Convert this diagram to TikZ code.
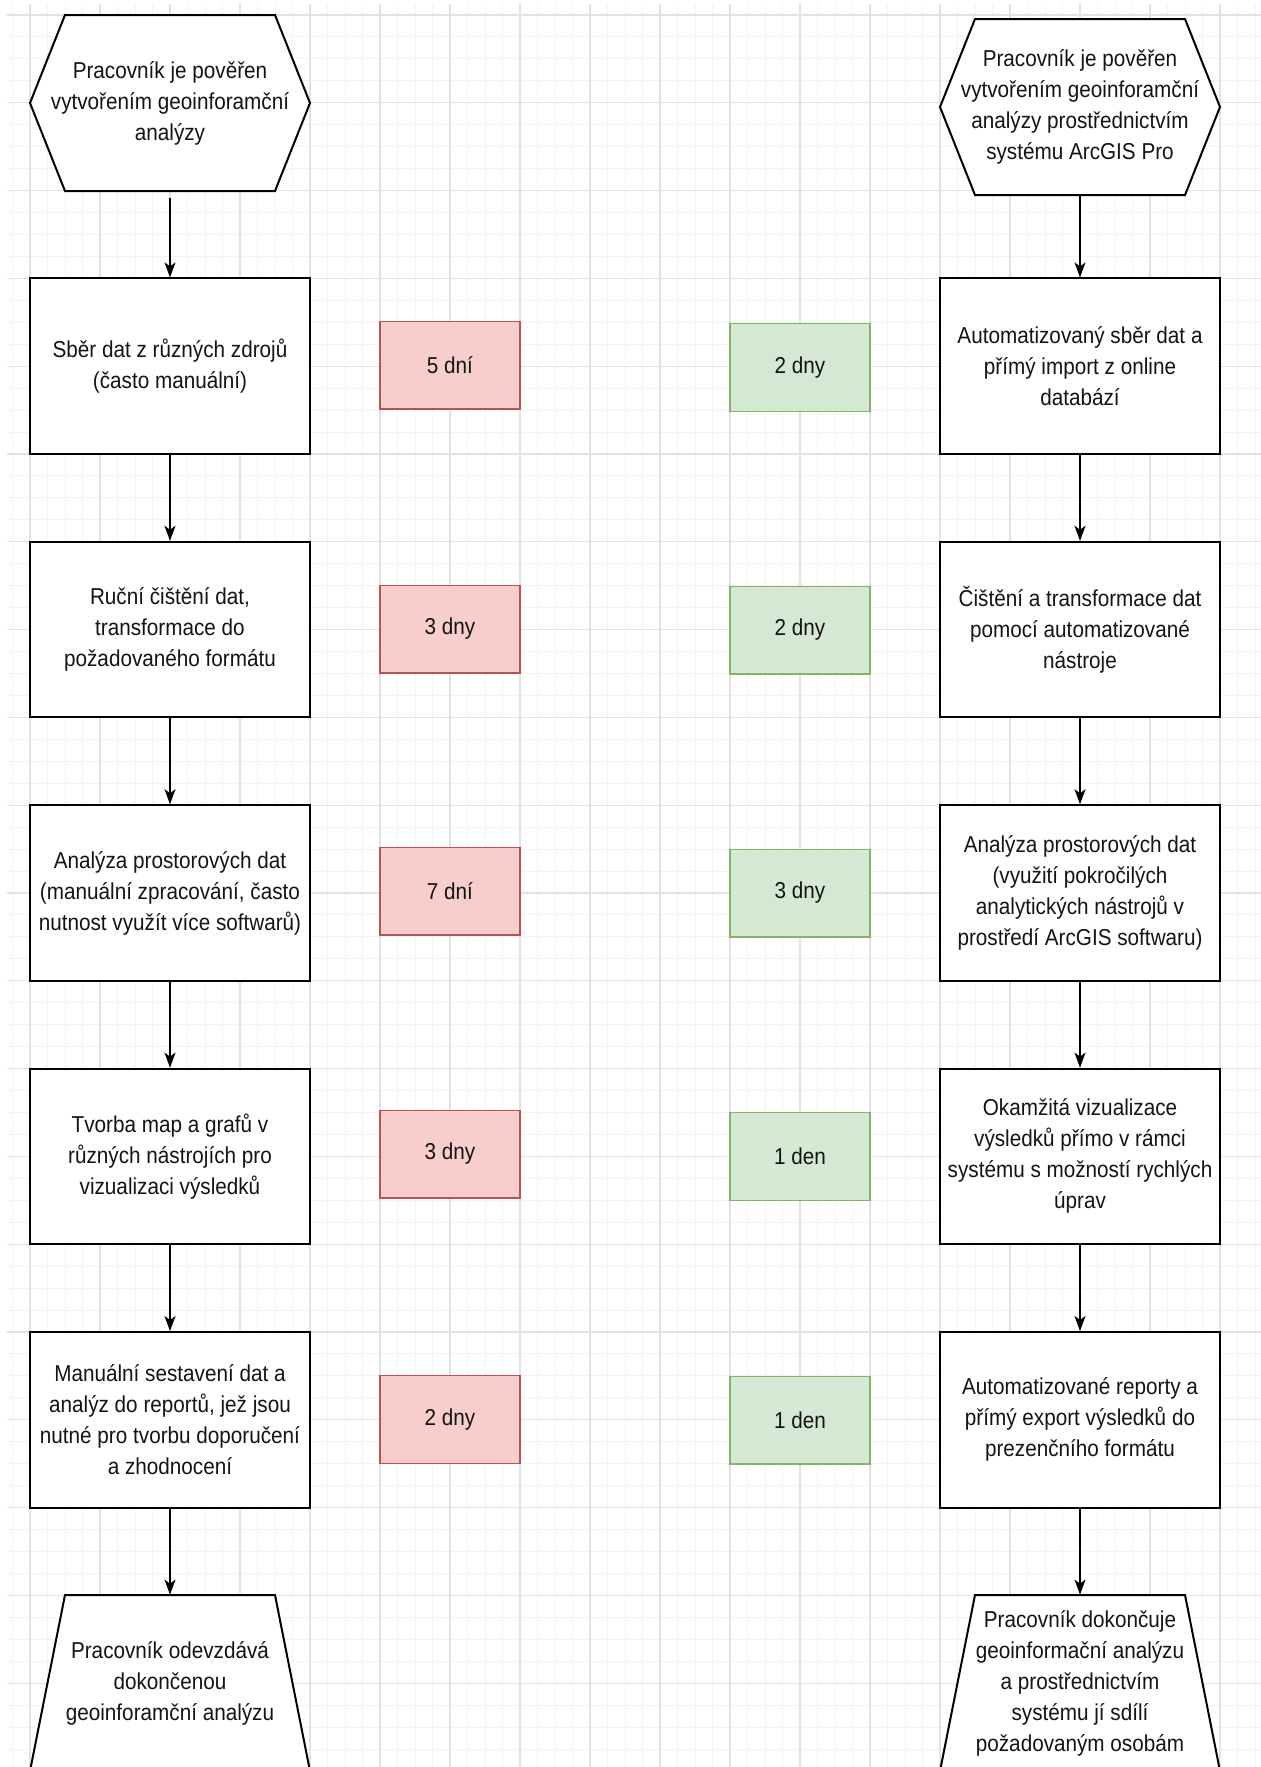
\documentclass[tikz,border=0pt]{standalone}
\usepackage{fontspec}
\setmainfont{Liberation Sans}[FakeStretch=0.9]
\usetikzlibrary{arrows.meta}
\definecolor{redfill}{HTML}{F8CECC}
\definecolor{redline}{HTML}{B85450}
\definecolor{greenfill}{HTML}{D5E8D4}
\definecolor{greenline}{HTML}{82B366}
\definecolor{minorgrid}{HTML}{F3F3F3}
\definecolor{majorgrid}{HTML}{E2E2E2}
\definecolor{textcol}{HTML}{141414}
\begin{document}
\begin{tikzpicture}[x=0.5pt,y=-0.5pt,
  txt/.style={align=center, text=textcol, font=\fontsize{11.5}{15.5}\selectfont, inner sep=0pt},
  proc/.style={txt, draw=black, line width=1pt, fill=white, minimum width=140pt, minimum height=87.8pt},
  term/.style={txt, minimum width=140pt, minimum height=88pt},
  outline/.style={draw=black, line width=1pt, fill=white},
  redbox/.style={txt, draw=redline, fill=redfill, line width=0.6pt, minimum width=70pt, minimum height=43.9pt},
  greenbox/.style={txt, draw=greenline, fill=greenfill, line width=0.6pt, minimum width=70pt, minimum height=43.9pt},
  flow/.style={-{Stealth[length=7.5pt,width=5.5pt,inset=2pt]}, line width=0.75pt, draw=black}
]
\useasboundingbox (0,0) rectangle (1261,1767);
\clip (0,0) rectangle (1261,1767);
\fill[white] (0,0) rectangle (1261,1767);
% grid
\foreach \i in {0,...,71} { \draw[minorgrid, line width=0.5pt] ({12.5+17.5*\i},4) -- ({12.5+17.5*\i},1767); }
\foreach \i in {0,...,79} { \draw[minorgrid, line width=0.5pt] (7,{15+21.95*\i}) -- (1261,{15+21.95*\i}); }
\foreach \i in {0,...,17} { \draw[majorgrid, line width=0.6pt] ({30+70*\i},4) -- ({30+70*\i},1767); }
\foreach \i in {0,...,19} { \draw[majorgrid, line width=0.6pt] (7,{15+87.8*\i}) -- (1261,{15+87.8*\i}); }

% outlines of start (hexagon) and end (trapezoid) shapes
\draw[outline] (65,15) -- (275,15) -- (310,103) -- (275,191) -- (65,191) -- (30,103) -- cycle;
\draw[outline] (975,19) -- (1185,19) -- (1220,107) -- (1185,195) -- (975,195) -- (940,107) -- cycle;
\draw[outline] (65,1595) -- (275,1595) -- (310,1771) -- (30,1771) -- cycle;
\draw[outline] (975,1595) -- (1185,1595) -- (1220,1771) -- (940,1771) -- cycle;

% left column
\node[term] (L0) at (170,103) {Pracovník je pověřen\\vytvořením geoinforamční\\analýzy};
\node[proc] (L1) at (170,366.2) {Sběr dat z různých zdrojů\\(často manuální)};
\node[proc] (L2) at (170,629.6) {Ruční čištění dat,\\transformace do\\požadovaného formátu};
\node[proc] (L3) at (170,893) {Analýza prostorových dat\\(manuální zpracování, často\\nutnost využít více softwarů)};
\node[proc] (L4) at (170,1156.4) {Tvorba map a grafů v\\různých nástrojích pro\\vizualizaci výsledků};
\node[proc] (L5) at (170,1419.8) {Manuální sestavení dat a\\analýz do reportů, jež jsou\\nutné pro tvorbu doporučení\\a zhodnocení};
\node[term] (L6) at (170,1683) {Pracovník odevzdává\\dokončenou\\geoinforamční analýzu};

% right column
\node[term] (R0) at (1080,107) {Pracovník je pověřen\\vytvořením geoinforamční\\analýzy prostřednictvím\\systému ArcGIS Pro};
\node[proc] (R1) at (1080,366.2) {Automatizovaný sběr dat a\\přímý import z online\\databází};
\node[proc] (R2) at (1080,629.6) {Čištění a transformace dat\\pomocí automatizované\\nástroje};
\node[proc] (R3) at (1080,893) {Analýza prostorových dat\\(využití pokročilých\\analytických nástrojů v\\prostředí ArcGIS softwaru)};
\node[proc] (R4) at (1080,1156.4) {Okamžitá vizualizace\\výsledků přímo v rámci\\systému s možností rychlých\\úprav};
\node[proc] (R5) at (1080,1419.8) {Automatizované reporty a\\přímý export výsledků do\\prezenčního formátu};
\node[term] (R6) at (1080,1683) {Pracovník dokončuje\\geoinformační analýzu\\a prostřednictvím\\systému jí sdílí\\požadovaným osobám};

% durations
\node[redbox] (T1) at (450,365) {5 dní};
\node[redbox] (T2) at (450,629) {3 dny};
\node[redbox] (T3) at (450,891) {7 dní};
\node[redbox] (T4) at (450,1154) {3 dny};
\node[redbox] (T5) at (450,1419.5) {2 dny};
\node[greenbox] (G1) at (800,367.5) {2 dny};
\node[greenbox] (G2) at (800,630) {2 dny};
\node[greenbox] (G3) at (800,893) {3 dny};
\node[greenbox] (G4) at (800,1156.5) {1 den};
\node[greenbox] (G5) at (800,1420) {1 den};

% connectors
\draw[flow, shorten <=3.5pt] (L0.south) -- (L1.north);
\foreach \a/\b in {L1/L2,L2/L3,L3/L4,L4/L5,L5/L6,R0/R1,R1/R2,R2/R3,R3/R4,R4/R5,R5/R6}
  \draw[flow] (\a.south) -- (\b.north);
\end{tikzpicture}
\end{document}
